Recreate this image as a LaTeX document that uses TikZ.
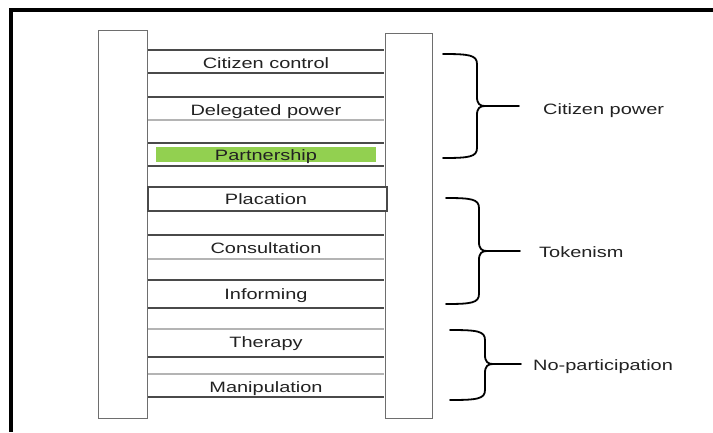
\documentclass[tikz,border=0pt]{standalone}
\usepackage{fontspec}
\setmainfont[FakeStretch=1.33]{Liberation Sans}
\definecolor{railc}{HTML}{6E6E6E}
\definecolor{rungdark}{HTML}{4A4A4A}
\definecolor{runglight}{HTML}{B4B4B4}
\definecolor{txtc}{HTML}{222222}
\definecolor{greenc}{HTML}{92D050}
\newcommand{\ladderbrace}[7]{% name, x0, xv, ytop, ymid, ybot, xtip
  \draw[bracestyle] (#2,#4) .. controls ({#3-8},#4) and (#3,{#4+1}) .. (#3,{#4+10})
     -- (#3,{#5-9}) .. controls (#3,{#5-2}) and ({#3+3},#5) .. ({#3+8},#5) -- (#7,#5);
  \draw[bracestyle] ({#3+8},#5) .. controls ({#3+3},#5) and (#3,{#5+2}) .. (#3,{#5+9})
     -- (#3,{#6-10}) .. controls (#3,{#6-1}) and ({#3-8},#6) .. (#2,#6);
  \coordinate (#1) at (#7,#5);
}
\begin{document}
\begin{tikzpicture}[x=1pt,y=-1pt,
  every node/.style={font=\fontsize{15}{18}\selectfont, text=txtc},
  rail/.style={draw=railc, line width=1.3pt, fill=white, inner sep=0pt, anchor=north west},
  rungd/.style={draw=rungdark, line width=1.1pt},
  rungl/.style={draw=runglight, line width=1.1pt},
  bracestyle/.style={draw=black, line width=1.8pt, line cap=round},
  step label/.style={anchor=base, inner sep=0pt},
  group label/.style={anchor=base west, inner sep=0pt}]
\useasboundingbox (0,0) rectangle (713,432);
\fill[white] (0,0) rectangle (713,432);
% outer frame
\draw[line width=4pt] (713,10) -- (11,10) -- (11,432);
% rails
\node[rail, minimum width=49pt, minimum height=388pt] (L) at (98,30) {};
\node[rail, minimum width=47pt, minimum height=385pt] (R) at (385,33) {};
% rungs
\draw[rungd] (148,50) -- (384,50);
\draw[rungd] (148,73) -- (384,73);
\draw[rungd] (148,97) -- (384,97);
\draw[rungl] (148,120) -- (384,120);
\draw[rungd] (148,143) -- (384,143);
\draw[rungd] (148,166) -- (384,166);
\draw[rungl] (148,211) -- (384,211);
\draw[rungd] (148,235) -- (384,235);
\draw[rungl] (148,259) -- (384,259);
\draw[rungd] (148,280) -- (384,280);
\draw[rungd] (148,308) -- (384,308);
\draw[rungl] (148,329) -- (384,329);
\draw[rungd] (148,357) -- (384,357);
\draw[rungl] (148,374) -- (384,374);
\draw[rungd] (148,397) -- (384,397);
% placation box
\draw[rungd, fill=white] (148,187) rectangle (387,211);
% partnership highlight
\fill[greenc] (156,147) rectangle (376,162);
% step labels
\node[step label] (s8) at (266,68) {Citizen control};
\node[step label] (s7) at (266,115.5) {Delegated power};
\node[step label] (s6) at (266,160) {Partnership};
\node[step label] (s5) at (266,204) {Placation};
\node[step label] (s4) at (266,253) {Consultation};
\node[step label] (s3) at (266,299) {Informing};
\node[step label] (s2) at (266,347) {Therapy};
\node[step label] (s1) at (266,392) {Manipulation};
% braces
\ladderbrace{b1}{443}{477}{54}{106}{158}{519}
\ladderbrace{b2}{446}{479}{198}{251}{304}{520}
\ladderbrace{b3}{450}{485}{330}{364}{400}{521}
\node[group label] (g1) at (543,114) {Citizen power};
\node[group label] (g2) at (539,257) {Tokenism};
\node[group label] (g3) at (533,370) {No-participation};
\end{tikzpicture}
\end{document}
